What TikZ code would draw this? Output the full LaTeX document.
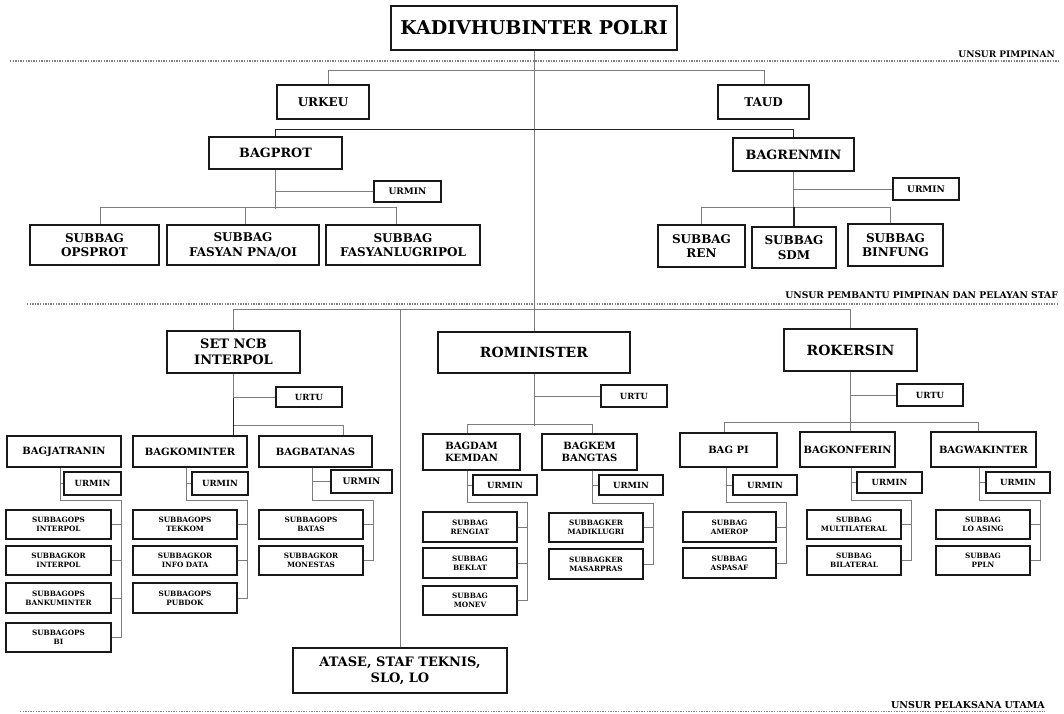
\documentclass[tikz,border=0pt]{standalone}
\usepackage{fontspec}
\setmainfont{DejaVu Serif}
\definecolor{lncol}{RGB}{125,125,125}
\definecolor{sepcol}{RGB}{130,130,130}
\tikzset{
  box/.style={draw=black!90,line width=1.3pt,fill=white,inner sep=1pt,align=center},
  ln/.style={draw=lncol,line width=1pt},
  dk/.style={draw=black!85,line width=1.2pt},
  sepline/.style={draw=sepcol,line width=1.2pt,dash pattern=on 1.3pt off 1.3pt},
  lbl/.style={anchor=base east,inner sep=0pt},
  fA/.style={font=\bfseries\fontsize{19}{21}\selectfont},
  fB/.style={font=\bfseries\fontsize{14}{16}\selectfont},
  fC/.style={font=\bfseries\fontsize{13}{15.5}\selectfont},
  fD/.style={font=\bfseries\fontsize{12.8}{15}\selectfont},
  fE/.style={font=\bfseries\fontsize{12}{14.5}\selectfont},
  fU/.style={font=\bfseries\fontsize{9}{10}\selectfont},
  fG/.style={font=\bfseries\fontsize{10}{12}\selectfont},
  fH/.style={font=\bfseries\fontsize{8.5}{10}\selectfont},
  fS/.style={font=\bfseries\fontsize{7.3}{9}\selectfont},
}
\newcommand\bx[7][]{\node[box,#1,minimum width={(#5)-(#3)},minimum height={(#6)-(#4)}] (#2) at ({((#3)+(#5))/2},{((#4)+(#6))/2}) {#7};}
\newcommand\branch[4]{%
  \path ([xshift=#2pt]#1.south) coordinate (#1v);
  \draw[ln] (#1v) |- ([xshift=10pt,yshift=9pt]#3.north east) -- ([xshift=10pt]#4.east);}
\begin{document}
\begin{tikzpicture}[x=1pt,y=-1pt]
\useasboundingbox (0,0) rectangle (1064,713);
% separators
\draw[sepline] (10,61) -- (1058,61);
\draw[sepline] (27,304) -- (1058,304);
\draw[sepline] (20,711.5) -- (1045,711.5);
\node[lbl,font=\bfseries\fontsize{9}{11}\selectfont] (l1) at (1055,57.5) {UNSUR PIMPINAN};
\node[lbl,font=\bfseries\fontsize{9.2}{11}\selectfont] (l2) at (1058,298) {UNSUR PEMBANTU PIMPINAN DAN PELAYAN STAF};
\node[lbl,font=\bfseries\fontsize{9.5}{12}\selectfont] (l3) at (1045,708) {UNSUR PELAKSANA UTAMA};
% top part
\bx[fA]{kadiv}{391}{6}{677}{50}{KADIVHUBINTER POLRI}
\bx[fE]{urkeu}{277}{85}{369}{119}{URKEU}
\bx[fE]{taud}{718}{85}{809}{119}{TAUD}
\bx[fD]{bagprot}{209}{137}{342}{169}{BAGPROT}
\bx[fD]{bagrenmin}{733}{138}{854}{171}{BAGRENMIN}
\bx[fU]{urminL}{374}{181}{441}{202}{URMIN}
\bx[fU]{urminR}{893}{178}{959}{200}{URMIN}
\bx[fE]{opsprot}{30}{225}{159}{265}{SUBBAG\\OPSPROT}
\bx[fE]{fasyan}{167}{225}{319}{265}{SUBBAG\\FASYAN PNA/OI}
\bx[fE]{fasyanlug}{326}{225}{480}{265}{SUBBAG\\FASYANLUGRIPOL}
\bx[fE]{ren}{658}{225}{745}{267}{SUBBAG\\REN}
\bx[fE]{sdm}{752}{227}{836}{268}{SUBBAG\\SDM}
\bx[fE]{binfung}{848}{224}{943}{266}{SUBBAG\\BINFUNG}
% middle heads
\bx[fC]{setncb}{167}{331}{300}{373}{SET NCB\\INTERPOL}
\bx[fB]{rominister}{438}{332}{630}{373}{ROMINISTER}
\bx[fB]{rokersin}{784}{329}{917}{371}{ROKERSIN}
\bx[fH]{urtu1}{276}{387}{342}{407}{URTU}
\bx[fH]{urtu2}{601}{385}{667}{407}{URTU}
\bx[fH]{urtu3}{897}{384}{963}{406}{URTU}
\bx[fC]{atase}{293}{648}{507}{693}{ATASE, STAF TEKNIS,\\SLO, LO}
% groups
\bx[fG]{bagjat}{7}{436}{121}{467}{BAGJATRANIN}
\bx[fH]{urm1}{64}{472}{121}{495}{URMIN}
\bx[fS]{s11}{6}{510}{111}{539}{SUBBAGOPS\\INTERPOL}
\bx[fS]{s12}{6}{546}{111}{575}{SUBBAGKOR\\INTERPOL}
\bx[fS]{s13}{6}{583}{111}{613}{SUBBAGOPS\\BANKUMINTER}
\bx[fS]{s14}{6}{623}{111}{652}{SUBBAGOPS\\BI}
\bx[fG]{bagkom}{133}{436}{247}{467}{BAGKOMINTER}
\bx[fH]{urm2}{192}{472}{248}{495}{URMIN}
\bx[fS]{s21}{133}{510}{237}{539}{SUBBAGOPS\\TEKKOM}
\bx[fS]{s22}{133}{546}{237}{575}{SUBBAGKOR\\INFO DATA}
\bx[fS]{s23}{133}{583}{237}{613}{SUBBAGOPS\\PUBDOK}
\bx[fG]{bagbat}{259}{436}{372}{467}{BAGBATANAS}
\bx[fU]{urm3}{331}{470}{392}{493}{URMIN}
\bx[fS]{s31}{259}{510}{363}{539}{SUBBAGOPS\\BATAS}
\bx[fS]{s32}{259}{546}{363}{575}{SUBBAGKOR\\MONESTAS}
\bx[fG]{bagdam}{423}{434}{520}{470}{BAGDAM\\KEMDAN}
\bx[fH]{urm4}{473}{475}{537}{495}{URMIN}
\bx[fS]{s41}{423}{512}{517}{542}{SUBBAG\\RENGIAT}
\bx[fS]{s42}{423}{548}{517}{578}{SUBBAG\\BEKLAT}
\bx[fS]{s43}{423}{586}{517}{615}{SUBBAG\\MONEV}
\bx[fG]{bagkem}{542}{434}{637}{470}{BAGKEM\\BANGTAS}
\bx[fH]{urm5}{599}{475}{663}{495}{URMIN}
\bx[fS]{s51}{549}{513}{643}{542}{SUBBAGKER\\MADIKLUGRI}
\bx[fS]{s52}{549}{549}{643}{579}{SUBBAGKER\\MASARPRAS}
\bx[fG]{bagpi}{680}{433}{777}{467}{BAG PI}
\bx[fH]{urm6}{733}{475}{797}{495}{URMIN}
\bx[fS]{s61}{683}{512}{776}{542}{SUBBAG\\AMEROP}
\bx[fS]{s62}{683}{548}{776}{578}{SUBBAG\\ASPASAF}
\bx[fG]{bagkon}{800}{432}{895}{467}{BAGKONFERIN}
\bx[fH]{urm7}{857}{472}{922}{493}{URMIN}
\bx[fS]{s71}{807}{510}{901}{539}{SUBBAG\\MULTILATERAL}
\bx[fS]{s72}{807}{546}{901}{575}{SUBBAG\\BILATERAL}
\bx[fG]{bagwak}{931}{432}{1036}{467}{BAGWAKINTER}
\bx[fH]{urm8}{986}{472}{1050}{493}{URMIN}
\bx[fS]{s81}{936}{510}{1030}{539}{SUBBAG\\LO ASING}
\bx[fS]{s82}{936}{546}{1030}{575}{SUBBAG\\PPLN}
% ---------- connectors ----------
\draw[ln] (kadiv.south) -- (rominister.north);
\draw[ln] ([xshift=5pt]urkeu.north) -- ++(0,-14) -| ([xshift=1pt]taud.north);
\draw[dk] (bagprot.north) -- ++(0,-7) -| (bagrenmin.north);
\draw[ln] (bagprot.south) -- ++(0,39);
\draw[ln] (urminL.west) -- (urminL.west -| bagprot.south);
\draw[ln] ([xshift=6pt]opsprot.north) -- ++(0,-17) -| ([xshift=-7pt]fasyanlug.north);
\draw[ln] ([xshift=2pt]fasyan.north) -- ++(0,-17);
\draw[ln] (bagrenmin.south) -- ++(0,37);
\draw[ln] (urminR.west) -- (urminR.west -| bagrenmin.south);
\draw[ln] (ren.north) -- ++(0,-17) -| ([xshift=-5pt]binfung.north);
\draw[dk] (sdm.north) -- ++(0,-19);
% middle
\draw[ln] (setncb.north) -- ++(0,-21) -| (rokersin.north);
\draw[ln] (atase.north) -- ++(0,-338);
% set ncb
\draw[ln] (setncb.south) -- ++(0,24);
\draw[dk] (setncb.south) ++(0,24) -- (setncb.south |- bagkom.north);
\draw[ln] (urtu1.west) -- (urtu1.west -| setncb.south);
\draw[ln] (setncb.south) ++(0,52) -| ([xshift=27.5pt]bagbat.north);
% rominister
\draw[ln] (rominister.south) -- ++(0,52);
\draw[ln] (urtu2.west) -- (urtu2.west -| rominister.south);
\draw[ln] ([xshift=-4.5pt]bagdam.north) -- ++(0,-9) -| ([xshift=2.5pt]bagkem.north);
% rokersin
\draw[ln] (rokersin.south) -- (rokersin.south |- bagkon.north);
\draw[ln] (urtu3.west) -- (urtu3.west -| rokersin.south);
\draw[ln] ([xshift=-4.5pt]bagpi.north) -- ++(0,-10) -| ([xshift=-5.5pt]bagwak.north);
% branches
\branch{bagjat}{-4}{s11}{s14}
\branch{bagkom}{-4}{s21}{s23}
\branch{bagbat}{-3.5}{s31}{s32}
\branch{bagdam}{-4.5}{s41}{s43}
\branch{bagkem}{2.5}{s51}{s52}
\branch{bagpi}{-2.5}{s61}{s62}
\branch{bagkon}{3.5}{s71}{s72}
\branch{bagwak}{-4.5}{s81}{s82}
\draw[ln] (urm1.west) -- (urm1.west -| bagjatv);
\draw[ln] (urm2.west) -- (urm2.west -| bagkomv);
\draw[ln] (urm3.west) -- (urm3.west -| bagbatv);
\draw[ln] (urm4.west) -- (urm4.west -| bagdamv);
\draw[ln] (urm5.west) -- (urm5.west -| bagkemv);
\draw[ln] (urm6.west) -- (urm6.west -| bagpiv);
\draw[ln] (urm7.west) -- (urm7.west -| bagkonv);
\draw[ln] (urm8.west) -- (urm8.west -| bagwakv);
\foreach \s in {s11,s12,s13,s14,s21,s22,s23,s31,s32,s41,s42,s43,s51,s52,s61,s62,s71,s72,s81,s82}
  \draw[ln] (\s.east) -- ++(10,0);
\end{tikzpicture}
\end{document}
